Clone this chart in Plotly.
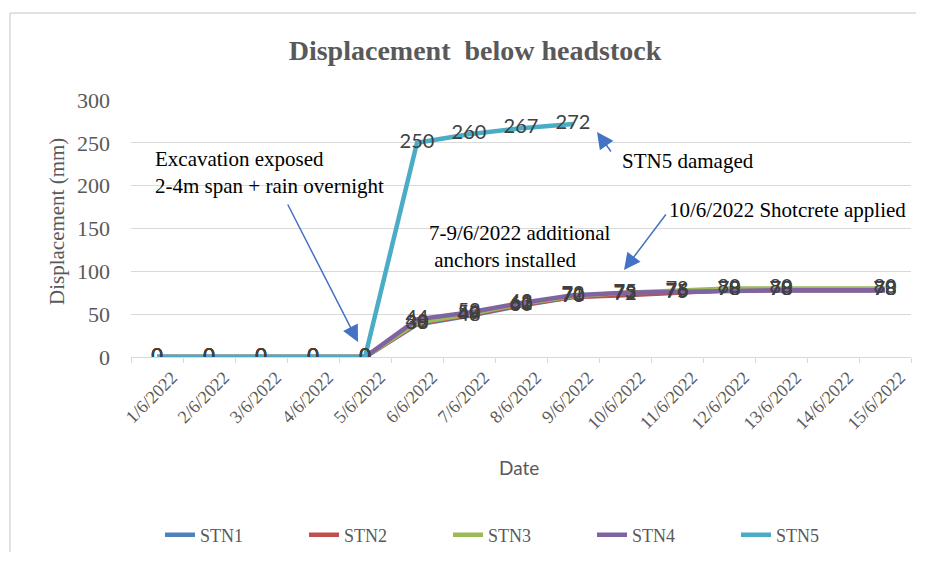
import plotly.graph_objects as go

dates = ["1/6/2022", "2/6/2022", "3/6/2022", "4/6/2022", "5/6/2022", "6/6/2022",
         "7/6/2022", "8/6/2022", "9/6/2022", "10/6/2022", "11/6/2022", "12/6/2022",
         "13/6/2022", "14/6/2022", "15/6/2022"]
stn1 = [0, 0, 0, 0, 0, 38, 48, 60, 70, 73, 76, 78, 78, None, 78]
stn2 = [0, 0, 0, 0, 0, 39, 49, 61, 70, 72, 75, 78, 78, None, 78]
stn3 = [0, 0, 0, 0, 0, 40, 50, 62, 71, 75, 78, 80, 80, None, 80]
stn4 = [0, 0, 0, 0, 0, 44, 52, 63, 72, 75, 76, 78, 78, None, 78]
stn5 = [0, 0, 0, 0, 0, 250, 260, 267, 272, None, None, None, None, None, None]

series = [("STN1", stn1, "#4F81BD"), ("STN2", stn2, "#C0504D"), ("STN3", stn3, "#9BBB59"),
          ("STN4", stn4, "#8064A2"), ("STN5", stn5, "#4BACC6")]

SERIF = "Liberation Serif, Times New Roman, serif"
GREY = "#595959"

# page has an 8px body margin on every side: keep the figure inside the window
OFF = 8
W, H = 925 - 2 * OFF, 561 - 2 * OFF
L, T = 131 - OFF, 100 - OFF
PW, PH = 780, 257
R, B = W - L - PW, H - T - PH


def px(x, y):
    """screen pixel -> paper coords"""
    return (x - OFF - L) / PW, (T + PH - (y - OFF)) / PH


fig = go.Figure()
for name, vals, col in series:
    fig.add_trace(go.Scatter(x=dates, y=vals, name=name, mode="lines",
                             line=dict(color=col, width=4.5), connectgaps=True,
                             hoverinfo="skip"))
for name, vals, col in series:
    fig.add_trace(go.Scatter(x=dates, y=vals, mode="text",
                             text=["" if v is None else str(v) for v in vals],
                             textposition="middle center",
                             textfont=dict(family="Lato, Liberation Sans, sans-serif", size=20, color="#404040"),
                             showlegend=False, hoverinfo="skip"))

annotations = []
# axis titles
x0, y0 = px(57, 222)
annotations.append(dict(xref="paper", yref="paper", x=x0, y=y0, text="Displacement (mm)",
                        textangle=-90, showarrow=False, xanchor="center", yanchor="middle",
                        font=dict(family=SERIF, size=21, color=GREY)))
x0, y0 = px(519, 467)
annotations.append(dict(xref="paper", yref="paper", x=x0, y=y0, text="Date", showarrow=False,
                        xanchor="center", yanchor="middle",
                        font=dict(family="Lato, Liberation Sans, sans-serif", size=19, color=GREY)))

# text notes
notes = [
    (153, 172, "Excavation exposed<br>2-4m span + rain overnight"),
    (620, 161, "STN5 damaged"),
    (667, 210, "10/6/2022 Shotcrete applied"),
    (427, 246, "7-9/6/2022 additional<br>\u00a0anchors installed"),
]
for xp, yp, t in notes:
    x0, y0 = px(xp, yp)
    annotations.append(dict(xref="paper", yref="paper", x=x0, y=y0, text=t, showarrow=False,
                            xanchor="left", yanchor="middle", align="left",
                            font=dict(family=SERIF, size=21, color="#000000")))

# arrows (head, tail) in screen pixels
arrows = [((358, 342), (287, 203)), ((597, 132), (612, 153)), ((624, 270), (667, 213))]
for (hx, hy), (tx, ty) in arrows:
    x0, y0 = px(hx, hy)
    annotations.append(dict(xref="paper", yref="paper", x=x0, y=y0, ax=tx - hx, ay=ty - hy,
                            text="", showarrow=True, arrowhead=2, arrowsize=2.2,
                            arrowwidth=1.5, arrowcolor="#4472C4"))

# chart-area border: only left and top edges fall inside the picture
bx0, by1 = px(10, 13)
bx1, by0 = px(925 - OFF - 1 + OFF, 561 - 1)
border = [
    dict(type="line", xref="paper", yref="paper", x0=bx0, x1=bx0, y0=px(0, 552)[1], y1=by1,
         line=dict(color="#d9d9d9", width=1.5), layer="below"),
    dict(type="line", xref="paper", yref="paper", x0=bx0, x1=px(916, 0)[0], y0=by1, y1=by1,
         line=dict(color="#d9d9d9", width=1.5), layer="below"),
]

fig.update_layout(
    width=W, height=H,
    margin=dict(l=L, r=R, t=T, b=B, autoexpand=False),
    paper_bgcolor="white", plot_bgcolor="white",
    title=dict(text="Displacement\u00a0 below headstock", x=(475 - OFF) / W, xref="container",
               xanchor="center", y=1 - (50 - OFF) / H, yanchor="middle",
               font=dict(family=SERIF, size=28, color=GREY, weight="bold")),
    xaxis=dict(type="category", range=[-0.5, 14.5], showline=True, linecolor="#d9d9d9",
               linewidth=1, ticks="outside", tickson="boundaries", ticklen=5,
               tickcolor="#d9d9d9", showgrid=False, tickangle=-45,
               ticklabelshift=15, ticklabelstandoff=2,
               tickfont=dict(family=SERIF, size=18, color=GREY)),
    yaxis=dict(range=[0, 300], dtick=50, gridcolor="#d9d9d9", zeroline=False,
               showline=False, ticks="", ticklabelstandoff=20,
               tickfont=dict(family=SERIF, size=22, color=GREY)),
    legend=dict(orientation="h", x=px(160, 0)[0], xanchor="left", y=px(0, 535)[1],
                yanchor="middle", font=dict(family=SERIF, size=18, color=GREY),
                entrywidth=99, bgcolor="rgba(0,0,0,0)"),
    annotations=annotations,
    shapes=border,
    showlegend=True,
)

fig.write_html("out.html")
